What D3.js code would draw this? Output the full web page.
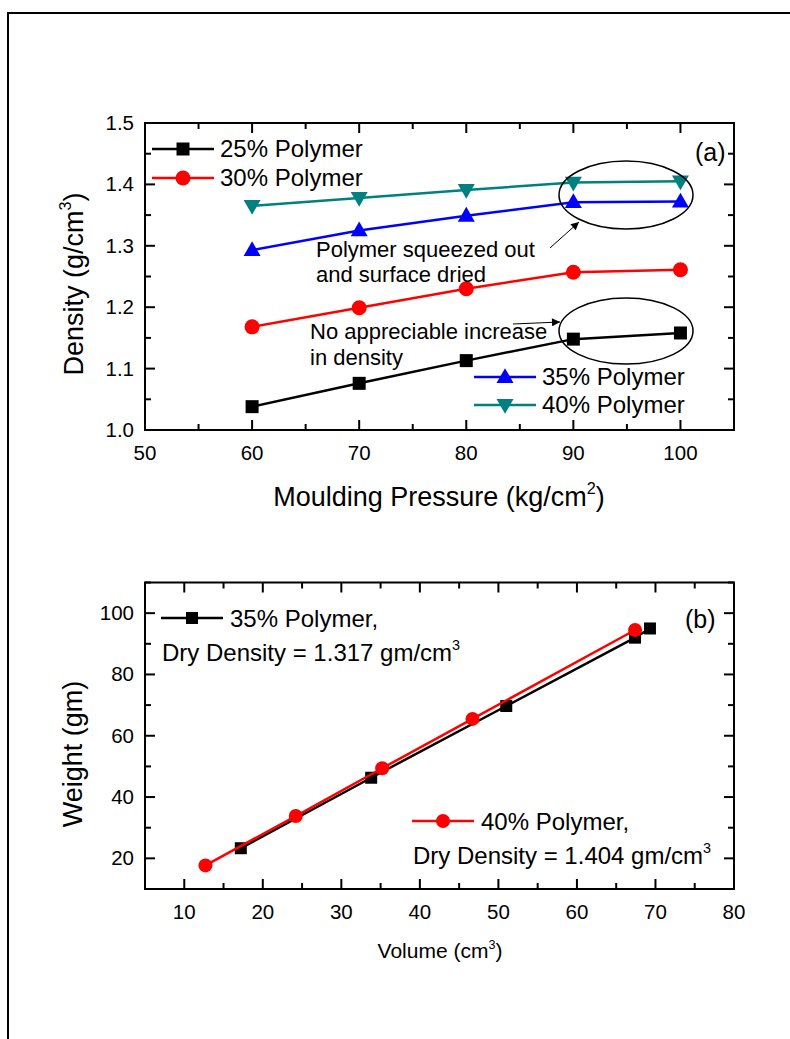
<!DOCTYPE html>
<html><head><meta charset="utf-8">
<script src="https://cdn.jsdelivr.net/npm/d3@7"></script>
<style>
html,body{margin:0;padding:0;background:#fff;}
svg{display:block;font-family:"Liberation Sans",Arial,sans-serif;}
</style></head>
<body>
<svg id="c" width="790" height="1039"></svg>
<script>
// ---------- Panel (a) data ----------
const pressure = [60, 70, 80, 90, 100];
const density25 = [1.038, 1.076, 1.113, 1.148, 1.158];
const density30 = [1.168, 1.199, 1.230, 1.257, 1.261];
const density35 = [1.293, 1.325, 1.349, 1.371, 1.372];
const density40 = [1.365, 1.378, 1.391, 1.403, 1.405];
const seriesNamesA = ["25% Polymer", "30% Polymer", "35% Polymer", "40% Polymer"];
const xTicksA = [50, 60, 70, 80, 90, 100];
const yTicksA = [1.0, 1.1, 1.2, 1.3, 1.4, 1.5];

// ---------- Panel (b) data ----------
const volume35 = [17.2, 33.8, 51.0, 67.4, 69.3];
const weight35 = [23.3, 46.3, 69.7, 92.0, 95.0];
const volume40 = [12.7, 24.2, 35.2, 46.7, 67.4];
const weight40 = [17.7, 33.8, 49.4, 65.5, 94.5];
const xTicksB = [10, 20, 30, 40, 50, 60, 70, 80];
const yTicksB = [20, 40, 60, 80, 100];

const svg = d3.select("#c");
const FONT = '"Liberation Sans",Arial,sans-serif';

// outer frame
svg.append("rect").attr("x", 8).attr("y", 13).attr("width", 900).attr("height", 1100)
  .attr("fill", "none").attr("stroke", "#000").attr("stroke-width", 2);

function marker(g, type, x, y, color, s) {
  let p;
  if (type === "square") {
    p = `M${x - s/2},${y - s/2}h${s}v${s}h${-s}Z`;
    g.append("path").attr("d", p).attr("fill", color);
  } else if (type === "circle") {
    g.append("circle").attr("cx", x).attr("cy", y).attr("r", s/2).attr("fill", color);
  } else if (type === "up") {
    const h = s * 0.87;
    p = `M${x},${y - h*0.6}L${x + s/2},${y + h*0.4}L${x - s/2},${y + h*0.4}Z`;
    g.append("path").attr("d", p).attr("fill", color);
  } else if (type === "down") {
    const h = s * 0.87;
    p = `M${x},${y + h*0.6}L${x + s/2},${y - h*0.4}L${x - s/2},${y - h*0.4}Z`;
    g.append("path").attr("d", p).attr("fill", color);
  }
}

function frameAxes(g, x, y, xMajor, xMinor, yMajor, yMinor, xLabels, yLabels, yFmt) {
  const [x0, x1] = x.range(), [y0, y1] = y.range();
  const maj = 10, min = 6;
  const ax = g.append("g").attr("stroke", "#000").attr("stroke-width", 2);
  ax.append("rect").attr("x", x0).attr("y", y1).attr("width", x1 - x0).attr("height", y0 - y1).attr("fill", "none");
  xMajor.forEach(v => {
    ax.append("line").attr("x1", x(v)).attr("x2", x(v)).attr("y1", y0).attr("y2", y0 - maj);
    ax.append("line").attr("x1", x(v)).attr("x2", x(v)).attr("y1", y1).attr("y2", y1 + maj);
  });
  xMinor.forEach(v => {
    ax.append("line").attr("x1", x(v)).attr("x2", x(v)).attr("y1", y0).attr("y2", y0 - min);
    ax.append("line").attr("x1", x(v)).attr("x2", x(v)).attr("y1", y1).attr("y2", y1 + min);
  });
  yMajor.forEach(v => {
    ax.append("line").attr("y1", y(v)).attr("y2", y(v)).attr("x1", x0).attr("x2", x0 + maj);
    ax.append("line").attr("y1", y(v)).attr("y2", y(v)).attr("x1", x1).attr("x2", x1 - maj);
  });
  yMinor.forEach(v => {
    ax.append("line").attr("y1", y(v)).attr("y2", y(v)).attr("x1", x0).attr("x2", x0 + min);
    ax.append("line").attr("y1", y(v)).attr("y2", y(v)).attr("x1", x1).attr("x2", x1 - min);
  });
  const tl = g.append("g").attr("font-family", FONT).attr("font-size", 20.5).attr("fill", "#000");
  xLabels.forEach(v => tl.append("text").attr("x", x(v)).attr("y", y0 + 30).attr("text-anchor", "middle").text(v));
  yLabels.forEach(v => tl.append("text").attr("x", x0 - 11).attr("y", y(v) + 7).attr("text-anchor", "end").text(yFmt(v)));
}

function supText(g, x, y, size, base, sup, tail, anchor, rotate) {
  const t = g.append("text").attr("font-family", FONT).attr("font-size", size)
    .attr("text-anchor", anchor || "start");
  if (rotate) t.attr("transform", `translate(${x},${y}) rotate(-90)`);
  else t.attr("x", x).attr("y", y);
  t.append("tspan").text(base);
  t.append("tspan").attr("font-size", size * 0.6).attr("dy", -size * 0.45).text(sup);
  t.append("tspan").attr("dy", size * 0.45).text(tail);
  return t;
}

// ================= Panel (a) =================
const xA = d3.scaleLinear().domain([50, 105]).range([145, 734]);
const yA = d3.scaleLinear().domain([1.0, 1.5]).range([430, 123]);
const gA = svg.append("g");
frameAxes(gA, xA, yA, d3.range(50, 101, 10), d3.range(55, 106, 10),
  d3.range(1.0, 1.51, 0.1), d3.range(1.05, 1.5, 0.1), xTicksA, yTicksA, d => d.toFixed(1));

const seriesA = [
  {vals: density25, color: "#000000", m: "square", s: 13},
  {vals: density30, color: "#ff0000", m: "circle", s: 15},
  {vals: density35, color: "#0000ff", m: "up", s: 17},
  {vals: density40, color: "#008080", m: "down", s: 17}
];
const lineA = d3.line().x(d => xA(d[0])).y(d => yA(d[1]));
seriesA.forEach(s => {
  const pts = pressure.map((p, i) => [p, s.vals[i]]);
  gA.append("path").attr("d", lineA(pts)).attr("fill", "none").attr("stroke", s.color).attr("stroke-width", 2.5);
  pts.forEach(p => marker(gA, s.m, xA(p[0]), yA(p[1]), s.color, s.s));
});

const legA = [
  {i: 0, lx: 152, ly: 149, ty: 157},
  {i: 1, lx: 152, ly: 178, ty: 186},
  {i: 2, lx: 474, ly: 377, ty: 385},
  {i: 3, lx: 474, ly: 405, ty: 413}
];
legA.forEach(l => {
  const s = seriesA[l.i];
  gA.append("line").attr("x1", l.lx).attr("x2", l.lx + 62).attr("y1", l.ly).attr("y2", l.ly)
    .attr("stroke", s.color).attr("stroke-width", 2.5);
  marker(gA, s.m, l.lx + 31, l.ly, s.color, s.s);
  gA.append("text").attr("x", l.lx + 68).attr("y", l.ty).attr("font-family", FONT).attr("font-size", 24)
    .text(seriesNamesA[l.i]);
});
gA.append("text").attr("x", 695).attr("y", 161).attr("font-family", FONT).attr("font-size", 25).text("(a)");

gA.append("ellipse").attr("cx", 626).attr("cy", 195).attr("rx", 67).attr("ry", 34)
  .attr("fill", "none").attr("stroke", "#000").attr("stroke-width", 1.5);
gA.append("ellipse").attr("cx", 626).attr("cy", 331).attr("rx", 67).attr("ry", 33)
  .attr("fill", "none").attr("stroke", "#000").attr("stroke-width", 1.5);
const defs = svg.append("defs");
defs.append("marker").attr("id", "ah").attr("viewBox", "0 0 10 10").attr("refX", 10).attr("refY", 5)
  .attr("markerWidth", 12).attr("markerHeight", 8).attr("markerUnits", "userSpaceOnUse").attr("orient", "auto")
  .append("path").attr("d", "M0,0L10,5L0,10Z").attr("fill", "#000");
gA.append("line").attr("x1", 550).attr("y1", 248).attr("x2", 579).attr("y2", 222)
  .attr("stroke", "#000").attr("stroke-width", 1).attr("marker-end", "url(#ah)");
gA.append("line").attr("x1", 513).attr("y1", 324).attr("x2", 560).attr("y2", 322)
  .attr("stroke", "#000").attr("stroke-width", 1).attr("marker-end", "url(#ah)");
const ann = gA.append("g").attr("font-family", FONT).attr("font-size", 22);
ann.append("text").attr("x", 316).attr("y", 257).text("Polymer squeezed out");
ann.append("text").attr("x", 316).attr("y", 282).text("and surface dried");
ann.append("text").attr("x", 310).attr("y", 339).text("No appreciable increase");
ann.append("text").attr("x", 310).attr("y", 365).text("in density");

supText(gA, 439, 506, 27, "Moulding Pressure (kg/cm", "2", ")", "middle", false);
supText(gA, 83, 284, 27, "Density (g/cm", "3", ")", "middle", true);

// ================= Panel (b) =================
const xB = d3.scaleLinear().domain([5, 80]).range([145, 734]);
const yB = d3.scaleLinear().domain([10, 110]).range([889, 582.5]);
const gB = svg.append("g");
frameAxes(gB, xB, yB, d3.range(10, 81, 10), d3.range(5, 80, 10),
  d3.range(20, 101, 20), d3.range(10, 111, 20), xTicksB, yTicksB, d => d);

const seriesB = [
  {xs: volume35, ys: weight35, color: "#000000", m: "square", s: 12},
  {xs: volume40, ys: weight40, color: "#ff0000", m: "circle", s: 14}
];
const lineB = d3.line().x(d => xB(d[0])).y(d => yB(d[1]));
seriesB.forEach(s => {
  const pts = s.xs.map((v, i) => [v, s.ys[i]]);
  gB.append("path").attr("d", lineB(pts)).attr("fill", "none").attr("stroke", s.color).attr("stroke-width", 2.5);
  pts.forEach(p => marker(gB, s.m, xB(p[0]), yB(p[1]), s.color, s.s));
});

const legB = [
  {i: 0, lx: 161, ly: 618, ty: 627, name: "35% Polymer,", dd: "1.317"},
  {i: 1, lx: 412, ly: 821, ty: 830, name: "40% Polymer,", dd: "1.404"}
];
legB.forEach(l => {
  const s = seriesB[l.i];
  gB.append("line").attr("x1", l.lx).attr("x2", l.lx + 62).attr("y1", l.ly).attr("y2", l.ly)
    .attr("stroke", s.color).attr("stroke-width", 2.5);
  marker(gB, s.m, l.lx + 31, l.ly, s.color, s.s);
  gB.append("text").attr("x", l.lx + 69).attr("y", l.ty).attr("font-family", FONT).attr("font-size", 24).text(l.name);
  supText(gB, l.lx + 1, l.ty + 34, 24, "Dry Density = " + l.dd + " gm/cm", "3", "", "start", false);
});
gB.append("text").attr("x", 685).attr("y", 628).attr("font-family", FONT).attr("font-size", 25).text("(b)");

supText(gB, 440, 958, 21, "Volume (cm", "3", ")", "middle", false);
supText(gB, 82, 754, 27, "Weight (gm)", "", "", "middle", true);
</script>
</body></html>
